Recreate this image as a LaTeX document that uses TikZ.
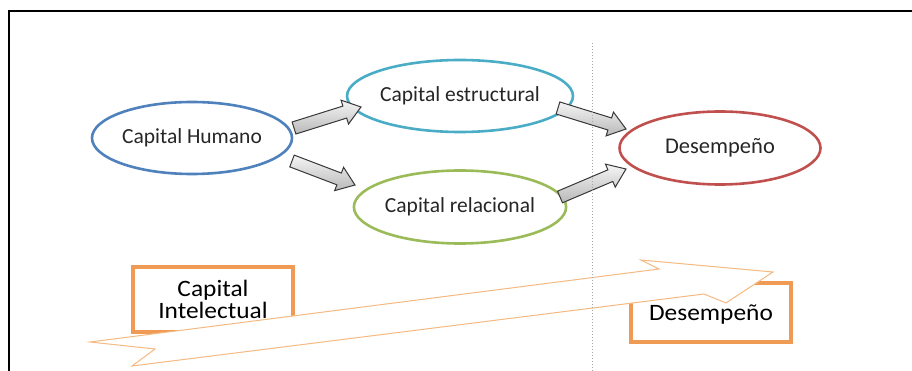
\documentclass[tikz,border=0pt]{standalone}
\usepackage{fontspec}
\setmainfont{Carlito}
\newfontfamily\widefont[FakeStretch=1.08]{Carlito}
\usetikzlibrary{shapes.geometric,calc}

\definecolor{humblue}{RGB}{79,129,189}
\definecolor{estteal}{RGB}{75,172,198}
\definecolor{relgreen}{RGB}{155,187,89}
\definecolor{desred}{RGB}{192,80,77}
\definecolor{boxorange}{RGB}{240,155,85}
\definecolor{arrorange}{RGB}{245,185,130}
\definecolor{arrgray}{RGB}{55,55,55}

\tikzset{
  capnode/.style={ellipse, draw, line width=2.6pt, inner sep=0pt,
    text=black!85, font=\fontsize{21.5}{24}\selectfont},
  labelbox/.style={draw=boxorange, line width=3.2pt, fill=white, inner sep=0pt,
    align=center, font=\widefont\fontsize{23.5}{22.5}\selectfont},
  bigarrow/.style={draw=arrorange, line width=1pt, fill=white, line join=miter},
  divider/.style={draw=gray!70, line width=1pt, dotted},
  frameline/.style={draw=black, line width=1.8pt},
  blockarrow/.style={draw=arrgray, line width=1pt, top color=gray!8,
    bottom color=gray!55, line join=miter,
    to path={let \p1=(\tikztostart), \p2=(\tikztotarget),
      \n1={atan2(\y2-\y1,\x2-\x1)} in
      ($(\p1)+(\n1+90:6.3pt)$)
      -- ($(\p2)+(\n1:-17pt)+(\n1+90:6.3pt)$)
      -- ($(\p2)+(\n1:-17pt)+(\n1+90:12.5pt)$)
      -- (\p2)
      -- ($(\p2)+(\n1:-17pt)+(\n1-90:12.5pt)$)
      -- ($(\p2)+(\n1:-17pt)+(\n1-90:6.3pt)$)
      -- ($(\p1)+(\n1-90:6.3pt)$) -- cycle}},
}

\begin{document}
\begin{tikzpicture}[x=1pt,y=-1pt]
  \useasboundingbox (0,0) rectangle (912,371);

  % outer frame (left and top edges)
  \coordinate (fbl) at (9,371);
  \coordinate (ftl) at (9,11);
  \coordinate (ftr) at (912,11);
  \draw[frameline] (fbl) -- (ftl) -- (ftr);

  % the four capital nodes
  \node[capnode, draw=humblue, minimum width=200pt, minimum height=72pt]
    (hum) at (192,138) {Capital Humano};
  \node[capnode, draw=estteal, minimum width=202pt, minimum height=72pt]
    (est) at (460,96) {Capital estructural};
  \node[capnode, draw=relgreen, minimum width=201pt, minimum height=73pt]
    (rel) at (460,207) {Capital relacional};
  \node[capnode, draw=desred, minimum width=201pt, minimum height=73pt,
    font=\fontsize{22.5}{24}\selectfont]
    (des) at (720,148) {Desempeño};

  % block arrow end points
  \coordinate (a1s) at (294,128);  \coordinate (a1e) at (361,107);
  \coordinate (a2s) at (292,161);  \coordinate (a2e) at (355,185);
  \coordinate (a3s) at (558,108);  \coordinate (a3e) at (626,129);
  \coordinate (a4s) at (560,197);  \coordinate (a4e) at (626,169);

  \draw[blockarrow] (a1s) to (a1e);
  \draw[blockarrow] (a2s) to (a2e);
  \draw[blockarrow] (a3s) to (a3e);
  \draw[blockarrow] (a4s) to (a4e);

  % label boxes below
  \node[labelbox, minimum width=160pt, minimum height=65pt]
    (ci) at (213,299.5) {Capital\\Intelectual};
  \node[labelbox, minimum width=160pt, minimum height=59pt, text depth=0pt]
    (db) at (711,312.5) {Desempeño};

  % long notched arrow across the bottom
  \coordinate (b1) at (90,342);
  \coordinate (b2) at (659,269);
  \coordinate (b3) at (641,260);
  \coordinate (b4) at (773,272);
  \coordinate (b5) at (726,303);
  \coordinate (b6) at (704,294);
  \coordinate (b7) at (132,366);
  \coordinate (b8) at (155,349);
  \draw[bigarrow] (b1) -- (b2) -- (b3) -- (b4) -- (b5) -- (b6) -- (b7) -- (b8) -- cycle;

  % dotted divider
  \coordinate (dtop) at (592,43);
  \coordinate (dbot) at (592,371);
  \draw[divider] (dtop) -- (dbot);
\end{tikzpicture}
\end{document}
